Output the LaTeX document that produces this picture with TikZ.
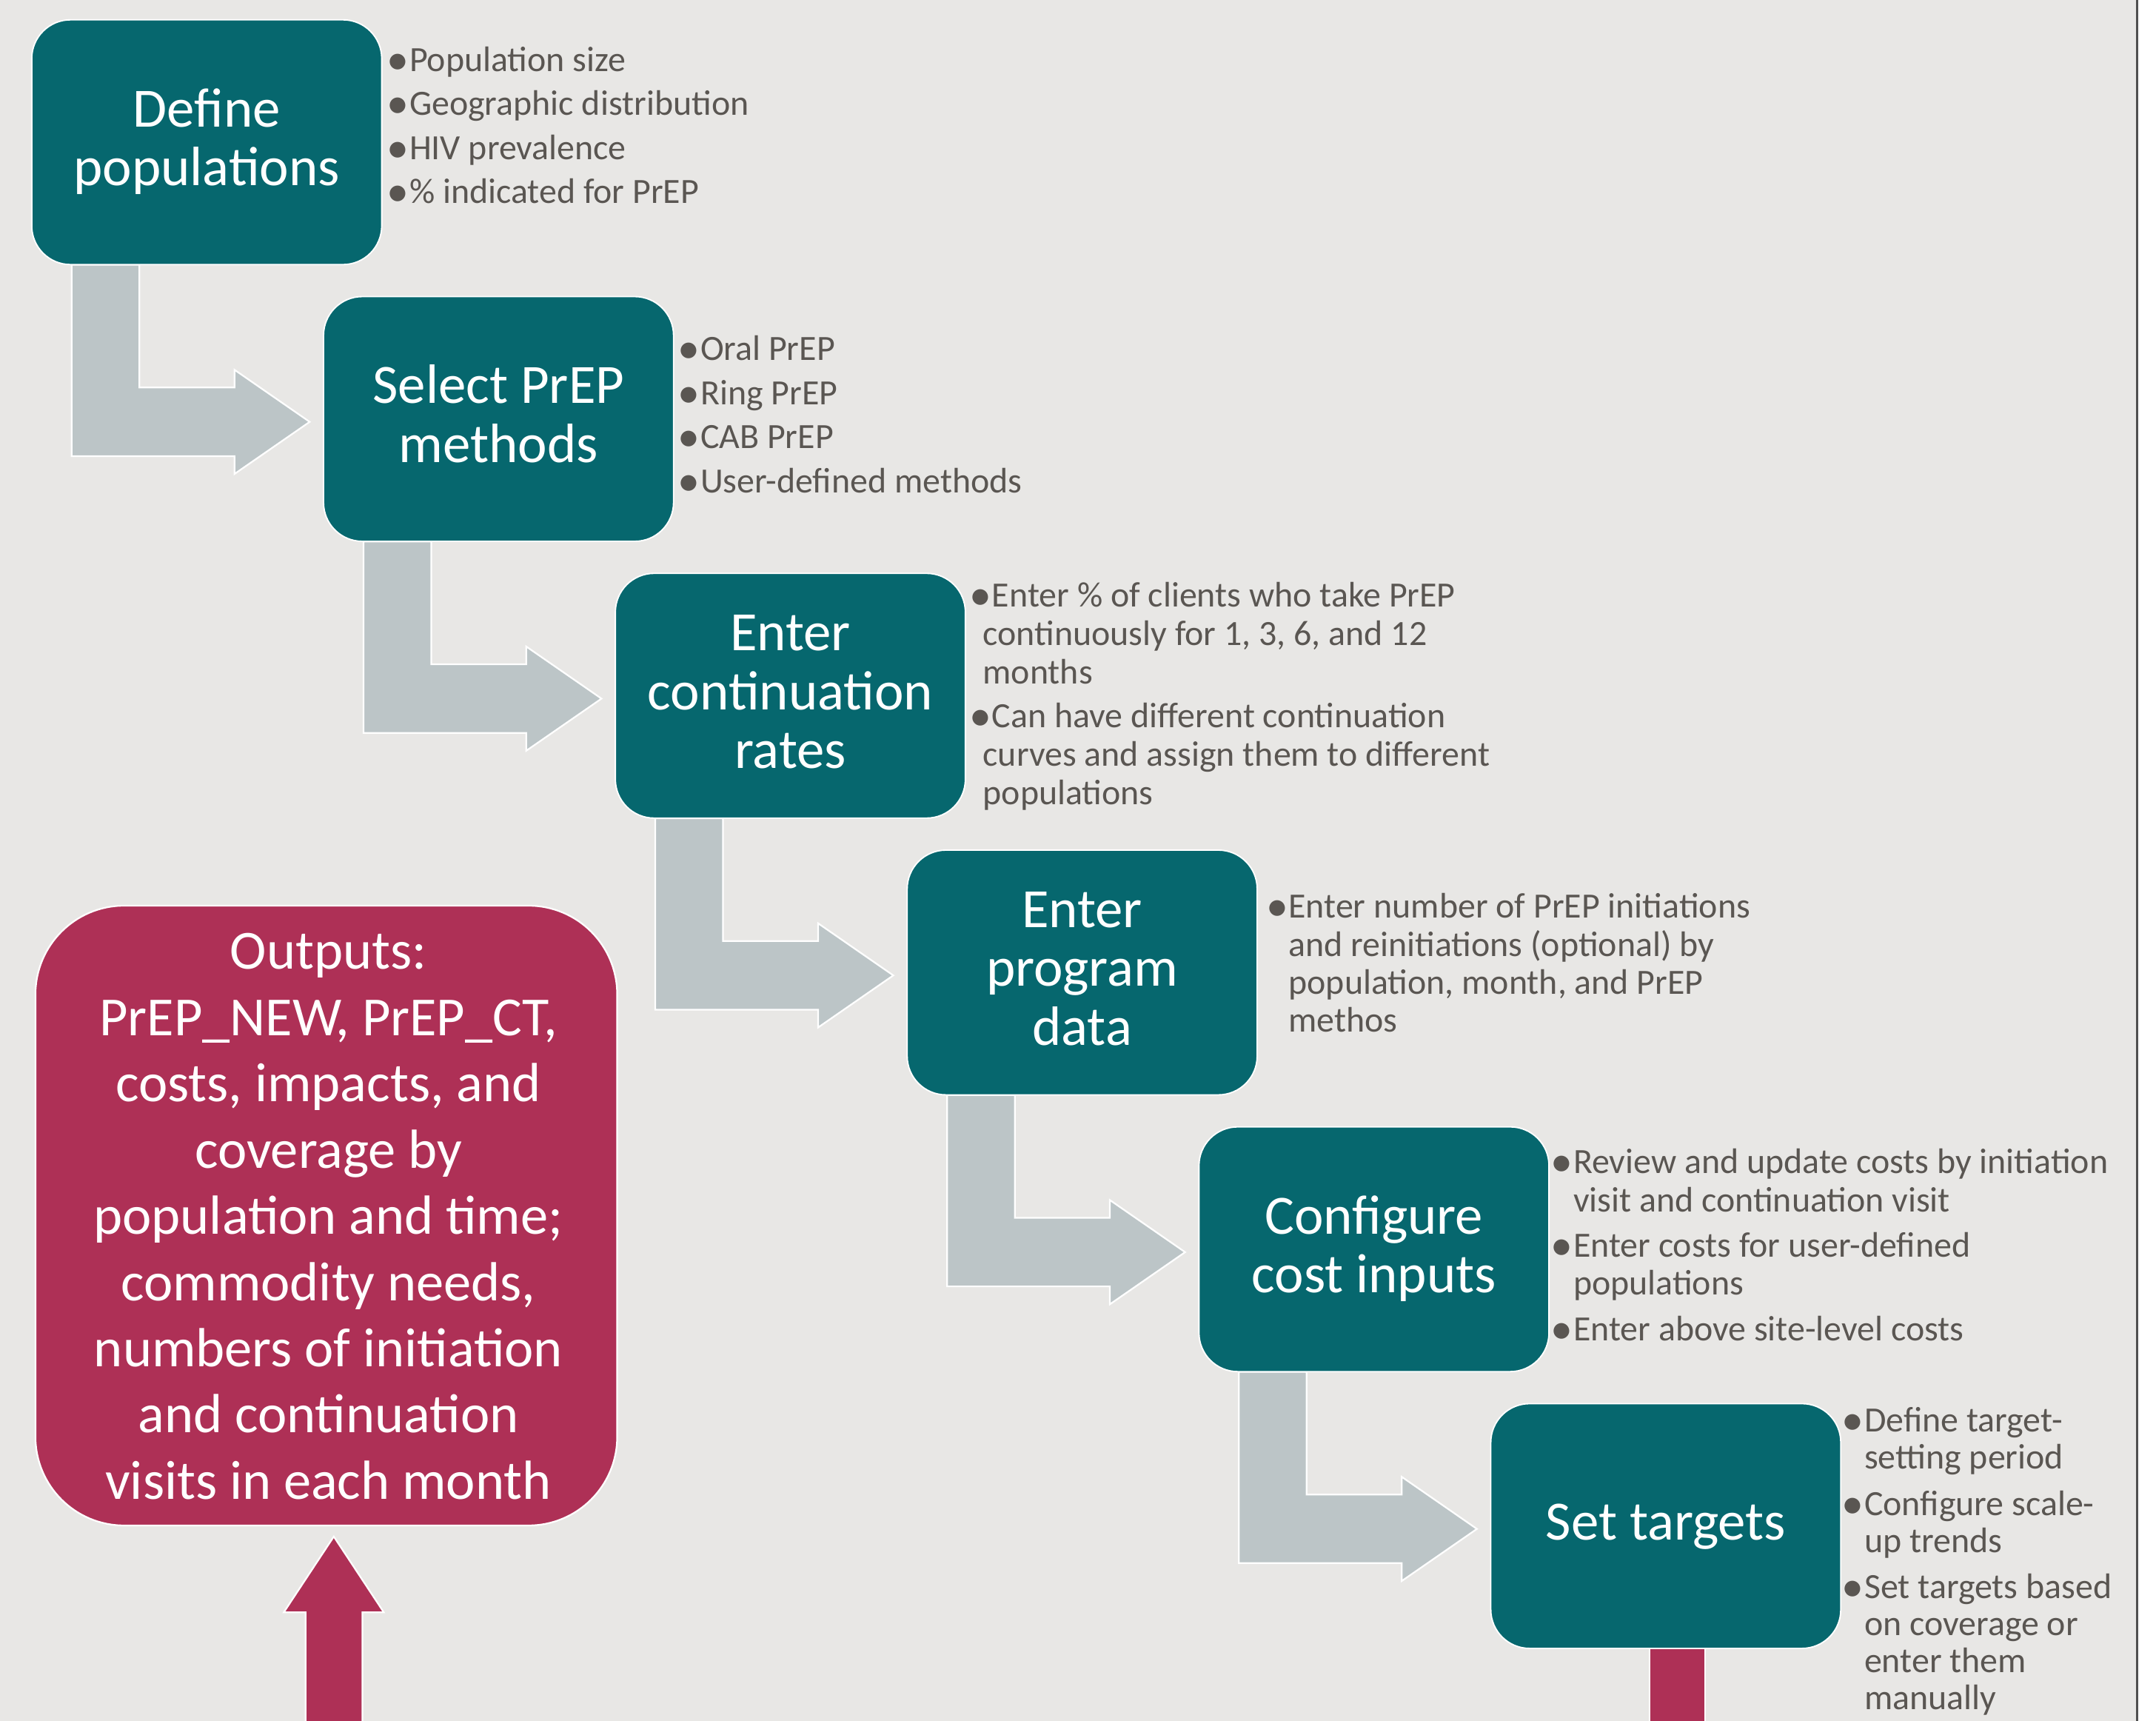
\documentclass[tikz,border=0pt]{standalone}
\usepackage{graphicx}
\usepackage{fontspec}
\setmainfont{Carlito}
\definecolor{bgc}{HTML}{E8E7E5}
\definecolor{tealc}{HTML}{06676E}
\definecolor{redc}{HTML}{AE3056}
\definecolor{arrowc}{HTML}{BCC5C7}
\definecolor{bulletc}{HTML}{5A5652}
\definecolor{edgec}{HTML}{505050}
\newcommand\mylines[2][c]{\begin{tabular}[t]{@{}#1@{}}#2\end{tabular}}
\newcommand\bul{\llap{\raisebox{-1.1pt}{\scalebox{1.25}{\textbullet}}\kern0.1pt}}
\tikzset{
  tealbox/.style={draw=white, line width=0.5pt, fill=tealc, rounded corners=14pt,
    minimum width=126.3pt, minimum height=88.3pt, inner sep=0pt, outer sep=0pt},
  redbox/.style={draw=white, line width=0.6pt, fill=redc, rounded corners=32pt,
    minimum width=209.9pt, minimum height=223.6pt, inner sep=0pt, outer sep=0pt},
  boxlabel/.style={text=white, inner sep=0pt, outer sep=0pt, anchor=base,
    font=\fontsize{20}{21.2}\selectfont},
  redlabel/.style={text=white, inner sep=0pt, outer sep=0pt, anchor=base,
    font=\fontsize{19.9}{23.9}\selectfont},
  bitem/.style={text=bulletc, inner sep=0pt, outer sep=0pt, anchor=base west,
    font=\fontsize{12.8}{#1}\selectfont},
  bitem/.default=13.7pt,
  bentarrow/.style={fill=arrowc, draw=white, line width=0.6pt},
  redarrow/.style={fill=redc, draw=white, line width=0.6pt},
}
\begin{document}
\begin{tikzpicture}[x=0.5pt,y=-0.5pt]
\useasboundingbox (0,0) rectangle (1556,1241.8);
\clip (0,0) rectangle (1556,1241.8);
% background
\fill[bgc] (0,0) rectangle (1542,1241.8);
\fill[white] (1543.3,0) rectangle (1556,1241.8);
\draw[edgec, line width=0.8pt] (1542.5,-5) -- (1542.5,1250);

% bent arrows
\foreach \k in {0,...,4}{
  \begin{scope}[shift={(\k*210.6,\k*199.7)}]
    \draw[bentarrow] (51.7,191) -- (100.6,191) -- (100.6,279.6) -- (169.2,279.6)
      -- (169.2,266.8) -- (223.5,304.4) -- (169.2,342.0) -- (169.2,329.1)
      -- (51.7,329.1) -- cycle;
  \end{scope}
}

% red bar below last box and red up arrow
\draw[redarrow] (1190.6,1180) rectangle (1230.7,1260);
\draw[redarrow] (240.9,1108.7) -- (277,1163.4) -- (261.5,1163.4) -- (261.5,1260)
  -- (220.5,1260) -- (220.5,1163.4) -- (204.8,1163.4) -- cycle;

% teal boxes
\node[tealbox] (b1) at (149.2,102.6) {};
\node[tealbox] (b2) at (359.8,302.3) {};
\node[tealbox] (b3) at (570.4,502.0) {};
\node[tealbox] (b4) at (781.0,701.7) {};
\node[tealbox] (b5) at (991.6,901.4) {};
\node[tealbox] (b6) at (1202.2,1101.1) {};

\node[boxlabel] (t1) at (149.2,91.4) {\mylines{Define\\populations}};
\node[boxlabel] (t2) at (359.8,291.1) {\mylines{Select PrEP\\methods}};
\node[boxlabel] (t3) at (570.4,469.6) {\mylines{Enter\\continuation\\rates}};
\node[boxlabel] (t4) at (781.0,669.3) {\mylines{Enter\\program\\data}};
\node[boxlabel] (t5) at (991.6,890.2) {\mylines{Configure\\cost inputs}};
\node[boxlabel] (t6) at (1202.2,1111.1) {\mylines{Set targets}};

% red output box
\node[redbox] (out) at (235.5,877.1) {};
\node[redlabel] (outt) at (237,699.3) {\mylines{Outputs:\\PrEP\_NEW, PrEP\_CT,\\costs, impacts, and\\coverage by\\population and time;\\commodity needs,\\numbers of initiation\\and continuation\\visits in each month}};

% bullets 1
\node[bitem=15.9pt] (a1) at (295.5,51.3) {\mylines[l]{\bul Population size\\\bul Geographic distribution\\\bul HIV prevalence\\\bul \% indicated for PrEP}};
% bullets 2
\node[bitem=15.9pt] (m1) at (505.5,260.0) {\mylines[l]{\bul Oral PrEP\\\bul Ring PrEP\\\bul CAB PrEP\\\bul User-defined methods}};
% bullets 3
\node[bitem=13.9pt] (c1) at (716,438) {\mylines[l]{\bul Enter \% of clients who take PrEP\\\kern-3.3pt continuously for 1, 3, 6, and 12\\\kern-3.3pt months\\[1.7pt]
\bul Can have different continuation\\\kern-3.3pt curves and assign them to different\\\kern-3.3pt populations}};
% bullets 4
\node[bitem=13.7pt] (p1) at (930,662.5) {\mylines[l]{\bul Enter number of PrEP initiations\\and reinitiations (optional) by\\population, month, and PrEP\\methos}};
% bullets 5
\node[bitem=13.85pt] (k1) at (1135.5,846.8) {\mylines[l]{\bul Review and update costs by initiation\\visit and continuation visit\\[2.3pt]
\bul Enter costs for user-defined\\populations\\[2.6pt]
\bul Enter above site-level costs}};
% bullets 6
\node[bitem=13.35pt] (s1) at (1345.5,1033.1) {\mylines[l]{\bul Define target-\\setting period\\[3.5pt]
\bul Configure scale-\\up trends\\[3.2pt]
\bul Set targets based\\on coverage or\\enter them\\manually}};
\end{tikzpicture}
\end{document}
